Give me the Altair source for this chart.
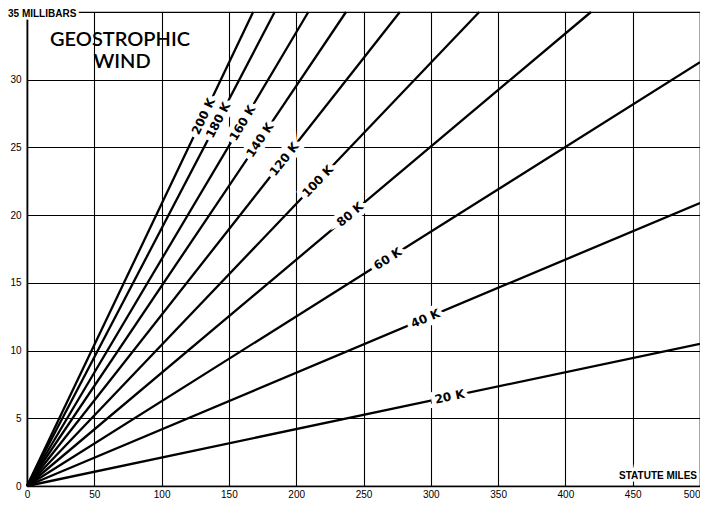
import math
import altair as alt
import pandas as pd

# ---- data ----
speeds = ["20 K", "40 K", "60 K", "80 K", "100 K", "120 K", "140 K", "160 K", "180 K", "200 K"]
end_miles = [500, 500, 500, 419, 336, 277, 237, 209, 184, 168]
end_mb = [10.5, 20.9, 31.3, 35, 35, 35, 35, 35, 35, 35]
label_miles = [314, 296, 268, 240, 216, 191, 173, 160, 142, 131]

x_ticks = list(range(0, 501, 50))
y_ticks = list(range(0, 36, 5))

W, H = 673, 474

rows = []
for s, em, eb in zip(speeds, end_miles, end_mb):
    rows.append({"speed": s, "miles": 0, "mb": 0})
    rows.append({"speed": s, "miles": em, "mb": eb})
lines_df = pd.DataFrame(rows)

lab = []
for s, em, eb, lm in zip(speeds, end_miles, end_mb, label_miles):
    slope_px = (eb / 35 * H) / (em / 500 * W)
    ang = math.degrees(math.atan(slope_px))
    lab.append({"speed": s, "miles": lm, "mb": eb * lm / em, "angle": 360 - ang})
lab_df = pd.DataFrame(lab)

xs = alt.Scale(domain=[0, 500], nice=False, zero=True)
ys = alt.Scale(domain=[0, 35], nice=False, zero=True)

base_x = alt.X("miles:Q", scale=xs, axis=alt.Axis(
    values=x_ticks, title=None, grid=True, gridColor="black", gridWidth=1.1,
    tickSize=0, domainColor="black", domainWidth=1.6, labelFontSize=10,
    labelFont="Liberation Sans", labelColor="black", labelPadding=3,
    labelAlign=alt.expr("datum.value == 500 ? 'right' : 'center'")))
base_y = alt.Y("mb:Q", scale=ys, axis=alt.Axis(
    values=y_ticks, title=None, grid=True, gridColor="black", gridWidth=1.1,
    tickSize=0, domainColor="black", domainWidth=1.6, labelFontSize=10,
    labelFont="Liberation Sans", labelColor="black", labelPadding=6,
    labelExpr="datum.value == 35 ? '' : datum.label"))

lines = alt.Chart(lines_df).mark_line(color="black", strokeWidth=2.3).encode(
    x=base_x, y=base_y, detail="speed:N")

halo = alt.Chart(lab_df).mark_text(
    font="DejaVu Sans", fontSize=12, fontWeight="bold", color="white",
    stroke="white", strokeWidth=9, align="center", baseline="middle").encode(
    x=alt.X("miles:Q", scale=xs), y=alt.Y("mb:Q", scale=ys),
    text="speed:N", angle=alt.Angle("angle:Q", scale=None))
labels = alt.Chart(lab_df).mark_text(
    font="DejaVu Sans", fontSize=12, fontWeight="bold", color="black",
    align="center", baseline="middle").encode(
    x=alt.X("miles:Q", scale=xs), y=alt.Y("mb:Q", scale=ys),
    text="speed:N", angle=alt.Angle("angle:Q", scale=None))

one = pd.DataFrame({"t": [0]})
title1 = alt.Chart(one).mark_text(
    font="Lato", fontSize=20, fontWeight=600, color="black", align="center",
    baseline="alphabetic").encode(
    x=alt.value(93), y=alt.value(34), text=alt.value("GEOSTROPHIC"))
title2 = alt.Chart(one).mark_text(
    font="Lato", fontSize=20, fontWeight=600, color="black", align="center",
    baseline="alphabetic").encode(
    x=alt.value(95), y=alt.value(56), text=alt.value("WIND"))

mb_halo = alt.Chart(one).mark_text(
    font="Liberation Sans", fontSize=10, fontWeight="bold", color="white",
    stroke="white", strokeWidth=5, align="left", baseline="middle").encode(
    x=alt.value(-19), y=alt.value(2), text=alt.value("35 MILLIBARS"))
mb_text = alt.Chart(one).mark_text(
    font="Liberation Sans", fontSize=10, fontWeight="bold", color="black",
    align="left", baseline="middle").encode(
    x=alt.value(-19), y=alt.value(2), text=alt.value("35 MILLIBARS"))

sm_halo = alt.Chart(one).mark_text(
    font="Liberation Sans", fontSize=10, fontWeight="bold", color="white",
    stroke="white", strokeWidth=5, align="right", baseline="middle").encode(
    x=alt.value(W - 3), y=alt.value(H - 10), text=alt.value("STATUTE MILES"))
sm_text = alt.Chart(one).mark_text(
    font="Liberation Sans", fontSize=10, fontWeight="bold", color="black",
    align="right", baseline="middle").encode(
    x=alt.value(W - 3), y=alt.value(H - 10), text=alt.value("STATUTE MILES"))

chart = alt.layer(lines, halo, labels, title1, title2, mb_halo, mb_text, sm_halo, sm_text).properties(
    width=W, height=H,
    autosize=alt.AutoSizeParams(type="none"),
    padding={"left": 19, "top": 4, "right": 0, "bottom": 12},
    background="white",
).configure_view(stroke="black", strokeWidth=1.2)

chart.save("out.html", embed_options={"renderer": "svg", "actions": False})
